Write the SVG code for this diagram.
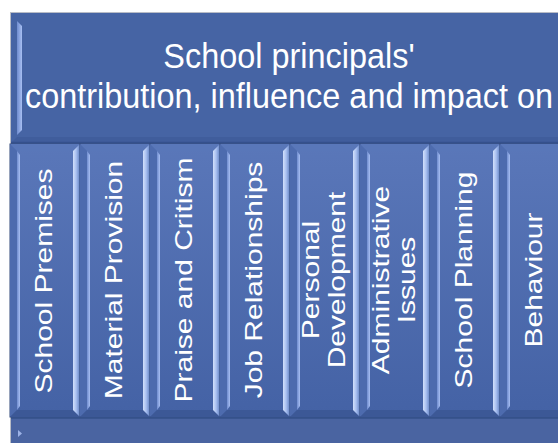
<svg xmlns="http://www.w3.org/2000/svg" width="558" height="443" viewBox="0 0 558 443">
  <defs>
    <linearGradient id="colFill" x1="0" y1="0" x2="0" y2="1">
      <stop offset="0" stop-color="#5a77b9"/>
      <stop offset="1" stop-color="#4462a5"/>
    </linearGradient>
    <linearGradient id="rightFace" x1="0" y1="0" x2="1" y2="0">
      <stop offset="0" stop-color="#d2e0fb"/>
      <stop offset="0.45" stop-color="#a9c0f0"/>
      <stop offset="1" stop-color="#5f7fc2"/>
    </linearGradient>
    <linearGradient id="leftHi" x1="0" y1="0" x2="1" y2="0">
      <stop offset="0" stop-color="#6f8ccf"/>
      <stop offset="1" stop-color="#a8bff2"/>
    </linearGradient>
    <style>
      .col-base { fill: url(#colFill); stroke: #2f4679; stroke-width: 1; }
      .face-top { fill: #5977b9; }
      .face-left { fill: #4d6bae; }
      .face-bottom { fill: #3c5896; }
      .face-right { fill: url(#rightFace); }
      .hi-left { fill: url(#leftHi); }
      .lbl { font-family: "Liberation Sans", Arial, sans-serif; font-size: 24px; fill: #ffffff; text-anchor: middle; }
      .title { font-family: "Liberation Sans", Arial, sans-serif; font-size: 34.5px; fill: #ffffff; text-anchor: middle; }
    </style>
  </defs>

  <rect x="0" y="0" width="558" height="443" fill="#ffffff"/>

  <g id="container">
    <rect x="10.5" y="12.5" width="570" height="440" fill="#46619f" stroke="#b8bcc6" stroke-width="1"/>
  </g>

  <g id="header">
    <rect x="11" y="13" width="560" height="130" fill="#4664a4"/>
    <polygon points="11,143 17,137 571,137 571,143" fill="#405d9c"/>
    <line x1="11" y1="142.5" x2="571" y2="142.5" stroke="#34508c" stroke-width="1.5"/>
    <polygon points="17,21 22,26 22,130 17,135" class="hi-left"/>
    <text class="title" transform="translate(289,68) scale(0.94,1)">School principals'</text>
    <text class="title" transform="translate(289,108) scale(0.94,1)">contribution, influence and impact on</text>
  </g>

  <g id="col-school-premises">
    <rect x="10" y="144" width="70" height="273" class="col-base"/>
    <polygon points="10,144 80,144 73,151 17,151" class="face-top"/>
    <polygon points="10,144 17,151 17,410 10,417" class="face-left"/>
    <polygon points="10,417 17,410 73,410 80,417" class="face-bottom"/>
    <polygon points="80,144 73,151 73,410 80,417" class="face-right"/>
    <polygon points="17,151 20,155 20,406 17,410" class="hi-left"/>
    <text class="lbl" transform="translate(52,281) rotate(-90) scale(1.25,1)">School Premises</text>
  </g>

  <g id="col-material-provision">
    <rect x="80" y="144" width="70" height="273" class="col-base"/>
    <polygon points="80,144 150,144 143,151 87,151" class="face-top"/>
    <polygon points="80,144 87,151 87,410 80,417" class="face-left"/>
    <polygon points="80,417 87,410 143,410 150,417" class="face-bottom"/>
    <polygon points="150,144 143,151 143,410 150,417" class="face-right"/>
    <polygon points="87,151 90,155 90,406 87,410" class="hi-left"/>
    <text class="lbl" transform="translate(122,280) rotate(-90) scale(1.25,1)">Material Provision</text>
  </g>

  <g id="col-praise-critism">
    <rect x="150" y="144" width="70" height="273" class="col-base"/>
    <polygon points="150,144 220,144 213,151 157,151" class="face-top"/>
    <polygon points="150,144 157,151 157,410 150,417" class="face-left"/>
    <polygon points="150,417 157,410 213,410 220,417" class="face-bottom"/>
    <polygon points="220,144 213,151 213,410 220,417" class="face-right"/>
    <polygon points="157,151 160,155 160,406 157,410" class="hi-left"/>
    <text class="lbl" transform="translate(192,280) rotate(-90) scale(1.25,1)">Praise and Critism</text>
  </g>

  <g id="col-job-relationships">
    <rect x="220" y="144" width="70" height="273" class="col-base"/>
    <polygon points="220,144 290,144 283,151 227,151" class="face-top"/>
    <polygon points="220,144 227,151 227,410 220,417" class="face-left"/>
    <polygon points="220,417 227,410 283,410 290,417" class="face-bottom"/>
    <polygon points="290,144 283,151 283,410 290,417" class="face-right"/>
    <polygon points="227,151 230,155 230,406 227,410" class="hi-left"/>
    <text class="lbl" transform="translate(262,280) rotate(-90) scale(1.25,1)">Job Relationships</text>
  </g>

  <g id="col-personal-development">
    <rect x="290" y="144" width="70" height="273" class="col-base"/>
    <polygon points="290,144 360,144 353,151 297,151" class="face-top"/>
    <polygon points="290,144 297,151 297,410 290,417" class="face-left"/>
    <polygon points="290,417 297,410 353,410 360,417" class="face-bottom"/>
    <polygon points="360,144 353,151 353,410 360,417" class="face-right"/>
    <polygon points="297,151 300,155 300,406 297,410" class="hi-left"/>
    <text class="lbl" transform="translate(319,280) rotate(-90) scale(1.25,1)">Personal</text>
    <text class="lbl" transform="translate(345,280) rotate(-90) scale(1.25,1)">Development</text>
  </g>

  <g id="col-administrative-issues">
    <rect x="360" y="144" width="70" height="273" class="col-base"/>
    <polygon points="360,144 430,144 423,151 367,151" class="face-top"/>
    <polygon points="360,144 367,151 367,410 360,417" class="face-left"/>
    <polygon points="360,417 367,410 423,410 430,417" class="face-bottom"/>
    <polygon points="430,144 423,151 423,410 430,417" class="face-right"/>
    <polygon points="367,151 370,155 370,406 367,410" class="hi-left"/>
    <text class="lbl" transform="translate(389,280) rotate(-90) scale(1.25,1)">Administrative</text>
    <text class="lbl" transform="translate(415,280) rotate(-90) scale(1.25,1)">Issues</text>
  </g>

  <g id="col-school-planning">
    <rect x="430" y="144" width="70" height="273" class="col-base"/>
    <polygon points="430,144 500,144 493,151 437,151" class="face-top"/>
    <polygon points="430,144 437,151 437,410 430,417" class="face-left"/>
    <polygon points="430,417 437,410 493,410 500,417" class="face-bottom"/>
    <polygon points="500,144 493,151 493,410 500,417" class="face-right"/>
    <polygon points="437,151 440,155 440,406 437,410" class="hi-left"/>
    <text class="lbl" transform="translate(472,280) rotate(-90) scale(1.25,1)">School Planning</text>
  </g>

  <g id="col-behaviour">
    <rect x="500" y="144" width="70" height="273" class="col-base"/>
    <polygon points="500,144 570,144 563,151 507,151" class="face-top"/>
    <polygon points="500,144 507,151 507,410 500,417" class="face-left"/>
    <polygon points="500,417 507,410 563,410 570,417" class="face-bottom"/>
    <polygon points="570,144 563,151 563,410 570,417" class="face-right"/>
    <polygon points="507,151 510,155 510,406 507,410" class="hi-left"/>
    <text class="lbl" transform="translate(542,280) rotate(-90) scale(1.25,1)">Behaviour</text>
  </g>

  <g id="footer">
    <rect x="11" y="418" width="560" height="25" fill="#4a64a1"/>
    <line x1="11" y1="418" x2="571" y2="418" stroke="#35508a" stroke-width="1.5"/>
    <polygon points="18,430 22,433.5 18,437" fill="#9cb2e6"/>
  </g>
</svg>
